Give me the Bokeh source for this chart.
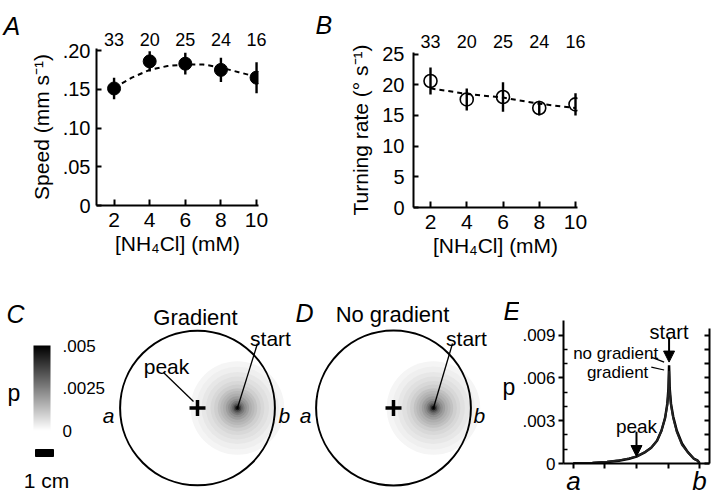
import numpy as np
from bokeh.plotting import figure
from bokeh.models import (Range1d, LinearAxis, FixedTicker, Label, Arrow, NormalHead,
                          ColorBar, LinearColorMapper, ColumnDataSource)
from bokeh.layouts import row, column
from bokeh.core.properties import value
from bokeh.embed import file_html
from bokeh.resources import INLINE

FONT = "Liberation Sans"

# ---------------- data ----------------
conc_mM = [2, 4, 6, 8, 10]
n_animals = ["33", "20", "25", "24", "16"]

speed_mm_s = [0.151, 0.186, 0.183, 0.175, 0.165]
speed_sem = [0.014, 0.013, 0.014, 0.0155, 0.020]
speed_fit_conc = [2, 3, 4, 5, 6, 7, 8, 9, 10]
speed_fit = [0.152, 0.165, 0.175, 0.180, 0.182, 0.182, 0.178, 0.172, 0.166]
speed_ticks = [0, 0.05, 0.10, 0.15, 0.20]
speed_tick_labels = ["0", ".05", ".10", ".15", ".20"]

turn_deg_s = [20.6, 17.6, 18.0, 16.2, 16.8]
turn_sem = [2.2, 1.8, 2.4, 1.2, 1.8]
turn_fit_conc = [2, 4, 6, 8, 10]
turn_fit = [19.4, 18.5, 17.9, 16.9, 16.2]
turn_ticks = [0, 5, 10, 15, 20, 25]

arena_radius_cm = 4.3
start_pos_cm = 2.22
peak_pos_cm = 0.0
scale_bar_cm = 1.0
blob_dist_cm = [2.6, 2.3, 2.0, 1.75, 1.5, 1.3, 1.1, 0.95, 0.8, 0.65, 0.52, 0.4, 0.3, 0.21, 0.13, 0.06]
blob_p = [0.0002, 0.00033, 0.00048, 0.00062, 0.00078, 0.00095, 0.0012, 0.0014, 0.0016, 0.0019,
          0.0022, 0.0026, 0.003, 0.0036, 0.0045, 0.0058]
p_ticks = [0, 0.0025, 0.005]
p_tick_labels = ["0", ".0025", ".005"]

profile_pos_cm = [-4.3, -3.0, -2.0, -1.2, -0.5, 0.0, 0.6, 1.0, 1.4, 1.7, 1.95, 2.1, 2.18,
                  2.22, 2.26, 2.35, 2.5, 2.75, 3.1, 3.5, 3.9, 4.15, 4.3]
p_no_gradient = [0.00001, 0.00004, 0.0001, 0.0002, 0.00033, 0.00048, 0.0008, 0.0011, 0.0016,
                 0.0023, 0.0032, 0.0042, 0.0053, 0.0069, 0.0053, 0.0042, 0.0033, 0.0023,
                 0.0014, 0.0008, 0.00035, 0.00022, 0.00003]
p_gradient = [0.00002, 0.00005, 0.00012, 0.00022, 0.00036, 0.0005, 0.00082, 0.0011, 0.0016,
              0.0023, 0.0032, 0.0041, 0.0051, 0.0065, 0.0051, 0.0041, 0.0032, 0.0022,
              0.0013, 0.00078, 0.00033, 0.0002, 0.00003]
E_y_ticks = [0, 0.003, 0.006, 0.009]
E_y_tick_labels = ["0", ".003", ".006", ".009"]
E_y_minor = [0.001, 0.002, 0.004, 0.005, 0.007, 0.008]
E_y_all = [0, 0.001, 0.002, 0.003, 0.004, 0.005, 0.006, 0.007, 0.008, 0.009]
E_x_end_ticks = [-4.3, 4.3]
E_x_end_labels = ["a", "b"]
E_x_inner_ticks = [-2.15, 0, 2.15]


def base_style(p):
    try:
        p.frame_align = False
    except Exception:
        pass
    p.grid.visible = False
    p.outline_line_color = None
    p.background_fill_color = "white"
    p.border_fill_color = "white"


def style_axis(ax, size="20px"):
    ax.axis_line_width = 2
    ax.axis_line_color = "black"
    ax.major_tick_line_width = 2
    ax.major_tick_line_color = "black"
    ax.minor_tick_line_color = None
    ax.major_label_text_font = FONT
    ax.major_label_text_font_size = size
    ax.major_label_text_color = "black"
    ax.axis_label_text_font = FONT
    ax.axis_label_text_font_style = "normal"
    ax.axis_label_text_font_size = "21px"
    ax.axis_label_text_color = "black"


def count_axis(standoff):
    return LinearAxis(ticker=FixedTicker(ticks=conc_mM),
                      major_label_overrides=dict(zip(conc_mM, n_animals)),
                      axis_line_color=None, major_tick_line_color=None,
                      minor_tick_line_color=None, major_tick_in=0, major_tick_out=0,
                      major_label_standoff=standoff, major_label_text_font=FONT,
                      major_label_text_font_size="18px", major_label_text_color="black")


def txt(p, x, y, t, size="21px", align="left", style="normal"):
    p.text(x=x, y=y, text=t, text_font=value(FONT), text_font_size=size,
           text_align=align, text_baseline="alphabetic", text_font_style=value(style),
           text_color="black")


def letter_fig(width, height, left, top, t, x, y):
    # panel letter, placed in page-pixel coordinates
    p = figure(width=width, height=height, x_range=Range1d(left, left + width),
               y_range=Range1d(top + height, top), x_axis_type=None, y_axis_type=None,
               min_border=0, output_backend="svg", toolbar_location=None)
    base_style(p)
    txt(p, [x], [y], [t], size="25px", style="italic")
    return p


# ---------------- panel A ----------------
xA = lambda X: 2 + (X - 110) / 18.25
yA = lambda Y: (205 - Y) / 775.0
pA = figure(width=279, height=265, x_range=Range1d(xA(92), xA(258)), y_range=Range1d(0, yA(48)),
            min_border_left=66, min_border_right=47, min_border_top=48, min_border_bottom=60,
            output_backend="svg", toolbar_location=None)
base_style(pA)
ax = pA.xaxis[0]
style_axis(ax, "21px")
ax.ticker = FixedTicker(ticks=conc_mM)
ax.major_tick_in, ax.major_tick_out = 6, 0
ax.major_label_standoff = 7
ax.axis_label = "[NH₄Cl] (mM)"
ax.axis_label_standoff = 2
ay = pA.yaxis[0]
style_axis(ay)
ay.ticker = FixedTicker(ticks=speed_ticks)
ay.major_label_overrides = dict(zip(speed_ticks, speed_tick_labels))
ay.major_tick_in, ay.major_tick_out = 5, 0
ay.major_label_standoff = 6
ay.axis_label = "Speed (mm s⁻¹)"
ay.axis_label_standoff = 7
pA.add_layout(count_axis(3), "above")
pA.line(speed_fit_conc, speed_fit, line_dash="5 4", line_width=2, color="black")
pA.segment(x0=conc_mM, y0=[v - e for v, e in zip(speed_mm_s, speed_sem)],
           x1=conc_mM, y1=[v + e for v, e in zip(speed_mm_s, speed_sem)],
           line_width=2.4, color="black")
pA.scatter(conc_mM, speed_mm_s, size=13, color="black")

# ---------------- panel B ----------------
xB = lambda X: 2 + (X - 430) / 18.125
yB = lambda Y: (207 - Y) / 6.14
pB = figure(width=375, height=265, x_range=Range1d(xB(413), xB(577)), y_range=Range1d(0, yB(52)),
            min_border_left=68, min_border_right=143, min_border_top=52, min_border_bottom=58,
            output_backend="svg", toolbar_location=None)
base_style(pB)
bx = pB.xaxis[0]
style_axis(bx, "21px")
bx.ticker = FixedTicker(ticks=conc_mM)
bx.major_tick_in, bx.major_tick_out = 6, 0
bx.major_label_standoff = 7
bx.axis_label = "[NH₄Cl] (mM)"
bx.axis_label_standoff = 2
by = pB.yaxis[0]
style_axis(by)
by.ticker = FixedTicker(ticks=turn_ticks)
by.major_tick_in, by.major_tick_out = 5, 0
by.major_label_standoff = 9
by.axis_label = "Turning rate (° s⁻¹)"
by.axis_label_standoff = 7
pB.add_layout(count_axis(5), "above")
pB.line(turn_fit_conc, turn_fit, line_dash="5 4", line_width=2, color="black")
pB.segment(x0=conc_mM, y0=[v - e for v, e in zip(turn_deg_s, turn_sem)],
           x1=conc_mM, y1=[v + e for v, e in zip(turn_deg_s, turn_sem)],
           line_width=2.4, color="black")
pB.scatter(conc_mM, turn_deg_s, size=13, fill_color=None, line_color="black", line_width=1.6)

letA = letter_fig(26, 265, 0, 0, "A", 3, 25)
letB = letter_fig(40, 265, 305, 0, "B", 315, 24)

# ---------------- panels C and D (arenas) ----------------
S = 18.0  # px per cm
cy = lambda Y: (407.5 - Y) / S
palette = ["#%02x%02x%02x" % (v, v, v) for v in range(255, -1, -1)]
mapper = LinearColorMapper(palette=palette, low=0, high=0.005, high_color="black")


def arena_fig(width, left_ref, center_ref):
    cx = lambda X: (X - center_ref) / S
    p = figure(width=width, height=233, x_range=Range1d(cx(left_ref), cx(left_ref + width)),
               y_range=Range1d(cy(498), cy(265)), x_axis_type=None, y_axis_type=None,
               min_border=0, output_backend="svg", toolbar_location=None)
    base_style(p)
    src = ColumnDataSource(dict(x=[start_pos_cm] * len(blob_dist_cm), y=[0.0] * len(blob_dist_cm),
                                r=blob_dist_cm, p=blob_p))
    p.circle(x="x", y="y", radius="r", source=src,
             fill_color={"field": "p", "transform": mapper}, line_color=None)
    p.circle(x=[0], y=[0], radius=arena_radius_cm, fill_color=None, line_color="black", line_width=2)
    p.scatter(x=[peak_pos_cm], y=[0], marker="cross", size=16, line_width=3.5, color="black")
    return p, cx


pC, cxC = arena_fig(292, 0, 197)
pC.segment(x0=[cxC(163), cxC(257)], y0=[cy(372), cy(343)],
           x1=[cxC(193), start_pos_cm], y1=[cy(401), 0], line_width=1.3, color="black")
txt(pC, [cxC(195)], [cy(317)], ["Gradient"], size="22px", align="center")
txt(pC, [cxC(166)], [cy(366)], ["peak"], align="center")
txt(pC, [cxC(270)], [cy(338)], ["start"], align="center")
txt(pC, [cxC(114)], [cy(415)], ["a"], align="right", style="italic")
txt(pC, [cxC(278)], [cy(415)], ["b"], style="italic")
txt(pC, [cxC(7)], [cy(392)], ["p"], size="23px")
txt(pC, [cxC(46)], [cy(480)], ["1 cm"], align="center")
txt(pC, [cxC(6)], [cy(313)], ["C"], size="25px", style="italic")
pC.quad(left=[cxC(35)], right=[cxC(35) + scale_bar_cm], top=[cy(449)], bottom=[cy(456)], color="black")
cbar = ColorBar(color_mapper=mapper, location=(33, 68), width=17, height=85, padding=0, margin=0,
                ticker=FixedTicker(ticks=p_ticks),
                major_label_overrides=dict(zip(p_ticks, p_tick_labels)),
                major_tick_line_color=None, minor_tick_line_color=None, label_standoff=12,
                major_label_text_font=FONT, major_label_text_font_size="17px",
                major_label_text_color="black",
                bar_line_color=None, border_line_color=None, background_fill_alpha=0)
pC.add_layout(cbar)

pD, cxD = arena_fig(227, 292, 393)
pD.segment(x0=[cxD(452)], y0=[cy(343)], x1=[start_pos_cm], y1=[0], line_width=1.3, color="black")
txt(pD, [cxD(392)], [cy(314)], ["No gradient"], size="22px", align="center")
txt(pD, [cxD(466)], [cy(338)], ["start"], align="center")
txt(pD, [cxD(311)], [cy(415)], ["a"], align="right", style="italic")
txt(pD, [cxD(473)], [cy(415)], ["b"], style="italic")
txt(pD, [cxD(295)], [cy(312)], ["D"], size="25px", style="italic")
# panel E's letter and its y label "p" sit left of E's frame, inside this figure
txt(pD, [cxD(503)], [cy(310)], ["E"], size="25px", style="italic")
txt(pD, [cxD(502)], [cy(386)], ["p"], size="23px")

# ---------------- panel E ----------------
ex = lambda X: -4.3 + (X - 571) / 14.88
ey = lambda Y: (464 - Y) / 14333.0
pE = figure(width=201, height=233, x_range=Range1d(ex(561), ex(709)), y_range=Range1d(0, ey(290)),
            min_border_left=42, min_border_right=11, min_border_top=25, min_border_bottom=34,
            output_backend="svg", toolbar_location=None)
base_style(pE)
exa = pE.xaxis[0]
style_axis(exa, "26px")
exa.ticker = FixedTicker(ticks=E_x_end_ticks, minor_ticks=E_x_inner_ticks)
exa.major_label_overrides = dict(zip(E_x_end_ticks, E_x_end_labels))
exa.major_label_text_font_style = "italic"
exa.major_tick_in, exa.major_tick_out = 0, 5
exa.minor_tick_line_color = "black"
exa.minor_tick_line_width = 2
exa.minor_tick_in, exa.minor_tick_out = 0, 5
exa.major_label_standoff = -3
eya = pE.yaxis[0]
style_axis(eya, "17px")
eya.ticker = FixedTicker(ticks=E_y_ticks, minor_ticks=E_y_minor)
eya.major_label_overrides = dict(zip(E_y_ticks, E_y_tick_labels))
eya.major_tick_in, eya.major_tick_out = 0, 5
eya.minor_tick_line_color = "black"
eya.minor_tick_line_width = 1.5
eya.minor_tick_in, eya.minor_tick_out = 4, 0
eya.major_label_standoff = 3
eya.bounds = (0, ey(320))
right = LinearAxis(ticker=FixedTicker(ticks=[], minor_ticks=E_y_all),
                   axis_line_width=2, axis_line_color="black",
                   minor_tick_line_width=2, minor_tick_line_color="black",
                   major_tick_in=0, major_tick_out=0, minor_tick_in=5, minor_tick_out=0,
                   major_label_standoff=0, bounds=(0, ey(328)))
pE.add_layout(right, "right")
pE.line(profile_pos_cm, p_no_gradient, line_width=2.5, color="black")
pE.line(profile_pos_cm, p_gradient, line_width=2.0, color="#222222")
pE.segment(x0=[ex(650), ex(650)], y0=[ey(357), ey(367)], x1=[ex(663), ex(663)], y1=[ey(362), ey(370)],
           line_width=1.2, color="black")
for t, x, y, sz, al in [("start", start_pos_cm, ey(332), "20px", "center"),
                        ("no gradient", ex(657), ey(353), "17px", "right"),
                        ("gradient", ex(647), ey(372), "17px", "right"),
                        ("peak", peak_pos_cm, ey(427), "19px", "center")]:
    pE.add_layout(Label(x=x, y=y, text=t, text_font=FONT, text_font_size=sz, text_align=al,
                        text_baseline="alphabetic", text_color="black"))
pE.add_layout(Arrow(end=NormalHead(size=11, fill_color="black", line_color="black"),
                    x_start=start_pos_cm, y_start=ey(337), x_end=start_pos_cm, y_end=ey(362),
                    line_width=2))
pE.add_layout(Arrow(end=NormalHead(size=11, fill_color="black", line_color="black"),
                    x_start=peak_pos_cm, y_start=ey(432), x_end=peak_pos_cm, y_end=ey(457),
                    line_width=2))

layout = column(row(letA, pA, letB, pB), row(pC, pD, pE))
open("out.html", "w").write(file_html(layout, INLINE))
